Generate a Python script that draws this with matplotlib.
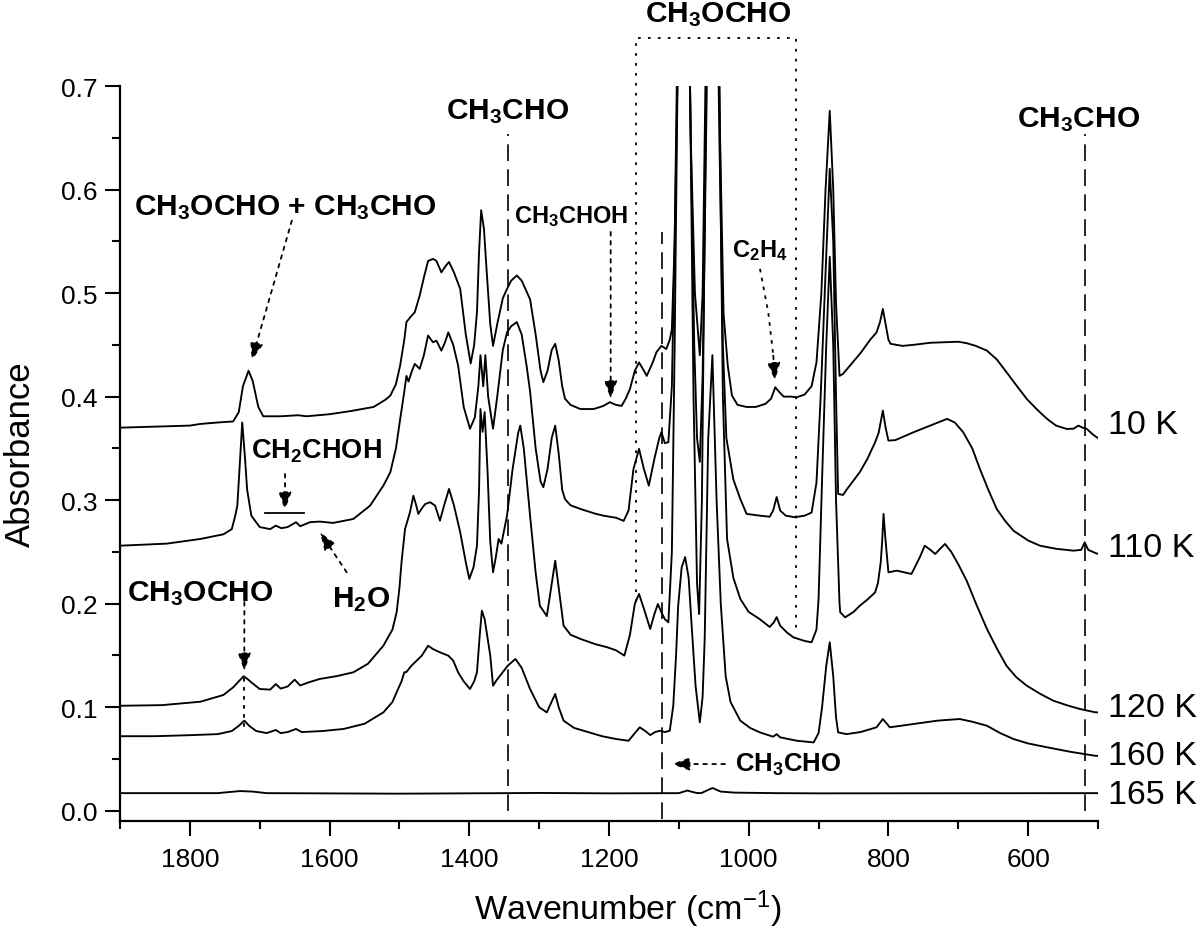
import matplotlib
matplotlib.use("Agg")
import matplotlib.pyplot as plt
import matplotlib.transforms as mtransforms

plt.rcParams['font.family'] = ['Liberation Sans', 'DejaVu Sans']
plt.rcParams['mathtext.default'] = 'regular'

# ---------------- data (wavenumber cm-1, absorbance) ----------------
wn_10K = [1900, 1850, 1800, 1785, 1760, 1738, 1730, 1724, 1716, 1710, 1702, 1695, 1670, 1645, 1633, 1600, 1570,
          1537, 1520, 1513, 1505, 1499, 1493, 1490, 1484, 1478, 1471, 1465, 1459, 1452, 1447, 1440, 1434, 1429,
          1422, 1413, 1405, 1398, 1393, 1389, 1386, 1383, 1379, 1375, 1370, 1366, 1360, 1352, 1346, 1340, 1332,
          1325, 1313, 1305, 1298, 1294, 1288, 1282, 1277, 1272, 1267, 1263, 1255, 1241, 1222, 1208, 1199, 1190,
          1182, 1176, 1170, 1163, 1157, 1150, 1146, 1138, 1132, 1125, 1118, 1113, 1110, 1106, 1103, 1098, 1092,
          1087, 1083, 1077, 1070, 1066, 1062, 1058, 1051, 1045, 1041, 1036, 1030, 1024, 1016, 1003, 990, 976,
          968, 962, 957, 950, 940, 931, 920, 910, 903, 896, 890, 884, 879, 875, 870, 865, 855, 840, 826, 817,
          812, 808, 804, 800, 797, 780, 764, 740, 716, 700, 688, 675, 659, 645, 631, 617, 602, 588, 573, 560,
          545, 535, 528, 522, 516, 510, 504, 500]
ab_10K = [0.370, 0.371, 0.372, 0.3736, 0.375, 0.376, 0.385, 0.41, 0.425, 0.415, 0.39, 0.381, 0.381, 0.382, 0.381,
          0.383, 0.386, 0.39, 0.397, 0.401, 0.412, 0.43, 0.455, 0.472, 0.477, 0.4815, 0.4976, 0.515, 0.531, 0.533,
          0.531, 0.52, 0.526, 0.53, 0.52, 0.504, 0.46, 0.432, 0.45, 0.4815, 0.54, 0.58, 0.562, 0.52, 0.47, 0.449,
          0.47, 0.495, 0.504, 0.512, 0.517, 0.512, 0.494, 0.46, 0.425, 0.414, 0.425, 0.445, 0.451, 0.435, 0.41,
          0.398, 0.392, 0.388, 0.388, 0.391, 0.3946, 0.392, 0.391, 0.398, 0.4074, 0.425, 0.433, 0.425, 0.42,
          0.432, 0.443, 0.449, 0.446, 0.455, 0.465, 0.55, 0.70, 0.90, 1.05, 0.85, 0.65, 0.50, 0.44, 0.50, 0.70,
          0.90, 1.10, 0.85, 0.65, 0.48, 0.43, 0.401, 0.392, 0.39, 0.39, 0.393, 0.398, 0.409, 0.405, 0.40, 0.40,
          0.3994, 0.402, 0.41, 0.433, 0.50, 0.60, 0.676, 0.60, 0.49, 0.42, 0.422, 0.43, 0.442, 0.455, 0.462,
          0.472, 0.4847, 0.47, 0.455, 0.451, 0.449, 0.45, 0.452, 0.4526, 0.453, 0.4516, 0.449, 0.4444, 0.436,
          0.4236, 0.411, 0.3978, 0.388, 0.3785, 0.372, 0.3688, 0.369, 0.372, 0.370, 0.3688, 0.365, 0.3617, 0.360]

wn_110K = [1900, 1833, 1785, 1752, 1740, 1735, 1732, 1729, 1725, 1721, 1718, 1712, 1700, 1685, 1677, 1669, 1660,
           1648, 1642, 1628, 1614, 1595, 1566, 1542, 1523, 1513, 1505, 1499, 1493, 1490, 1487, 1482, 1478, 1471,
           1465, 1459, 1452, 1447, 1440, 1435, 1430, 1423, 1416, 1408, 1399, 1392, 1387, 1384, 1380, 1377, 1373,
           1366, 1360, 1352, 1346, 1340, 1332, 1325, 1318, 1313, 1305, 1298, 1294, 1288, 1282, 1277, 1272, 1267,
           1263, 1255, 1241, 1220, 1208, 1190, 1179, 1172, 1165, 1157, 1150, 1143, 1135, 1128, 1125, 1120, 1115,
           1110, 1106, 1102, 1097, 1092, 1087, 1083, 1078, 1074, 1070, 1066, 1063, 1060, 1055, 1050, 1046, 1042,
           1037, 1032, 1022, 1012, 1003, 984, 970, 965, 960, 955, 947, 934, 920, 910, 903, 897, 890, 884, 879,
           875, 872, 865, 860, 841, 830, 819, 814, 808, 804, 800, 790, 764, 740, 716, 705, 693, 680, 669, 657,
           645, 633, 621, 600, 583, 560, 535, 524, 519, 514, 504, 500]
ab_110K = [0.256, 0.258, 0.2625, 0.267, 0.272, 0.285, 0.295, 0.33, 0.375, 0.34, 0.31, 0.285, 0.274, 0.272, 0.2754,
           0.2729, 0.274, 0.2787, 0.2748, 0.2787, 0.2793, 0.278, 0.2818, 0.2947, 0.314, 0.327, 0.35, 0.378, 0.405,
           0.42, 0.4146, 0.425, 0.4316, 0.4268, 0.44, 0.459, 0.4525, 0.454, 0.4444, 0.452, 0.462, 0.45, 0.43,
           0.39, 0.369, 0.38, 0.41, 0.44, 0.41, 0.44, 0.40, 0.369, 0.40, 0.445, 0.462, 0.468, 0.472, 0.46, 0.43,
           0.405, 0.35, 0.318, 0.3125, 0.33, 0.36, 0.372, 0.345, 0.31, 0.301, 0.295, 0.2915, 0.287, 0.285, 0.283,
           0.28, 0.29, 0.33, 0.3495, 0.33, 0.314, 0.34, 0.36, 0.3656, 0.355, 0.356, 0.41, 0.55, 0.70, 0.90, 1.0,
           0.85, 0.65, 0.45, 0.36, 0.337, 0.42, 0.55, 0.70, 0.90, 1.0, 0.85, 0.65, 0.45, 0.36, 0.32, 0.301, 0.2867,
           0.285, 0.284, 0.29, 0.303, 0.29, 0.285, 0.2835, 0.285, 0.288, 0.317, 0.40, 0.52, 0.62, 0.55, 0.40,
           0.306, 0.305, 0.31, 0.327, 0.34, 0.356, 0.365, 0.3865, 0.37, 0.3575, 0.358, 0.3656, 0.372, 0.3785,
           0.375, 0.3656, 0.35, 0.33, 0.31, 0.2915, 0.28, 0.2705, 0.261, 0.256, 0.253, 0.2512, 0.252, 0.2593,
           0.252, 0.249, 0.248]

wn_120K = [1900, 1840, 1785, 1752, 1738, 1730, 1723, 1717, 1712, 1700, 1685, 1677, 1670, 1660, 1650, 1642, 1630,
           1614, 1590, 1566, 1545, 1523, 1510, 1504, 1500, 1497, 1492, 1485, 1480, 1476, 1473, 1468, 1463, 1456,
           1449, 1442, 1436, 1429, 1422, 1413, 1405, 1400, 1394, 1389, 1386, 1384, 1381, 1378, 1374, 1370, 1366,
           1362, 1358, 1354, 1346, 1338, 1330, 1327, 1322, 1313, 1305, 1299, 1289, 1283, 1277, 1272, 1265, 1255,
           1241, 1220, 1203, 1190, 1178, 1170, 1163, 1157, 1150, 1141, 1135, 1130, 1125, 1120, 1115, 1110, 1106,
           1102, 1097, 1092, 1087, 1084, 1079, 1074, 1071, 1067, 1064, 1061, 1056, 1050, 1045, 1042, 1037, 1031,
           1022, 1012, 1000, 984, 970, 964, 960, 955, 945, 936, 920, 910, 903, 900, 895, 889, 884, 879, 875, 870,
           869, 862, 850, 841, 830, 819, 815, 811, 809, 807, 804, 800, 788, 767, 755, 748, 740, 733, 726, 719, 710,
           700, 688, 674, 659, 645, 631, 617, 602, 583, 564, 545, 526, 504, 500]
ab_120K = [0.1014, 0.102, 0.1053, 0.1118, 0.1192, 0.125, 0.1299, 0.127, 0.124, 0.1176, 0.117, 0.1224, 0.118, 0.12,
           0.1266, 0.121, 0.124, 0.1273, 0.13, 0.1337, 0.142, 0.1594, 0.175, 0.1917, 0.215, 0.24, 0.272, 0.288,
           0.3043, 0.295, 0.2867, 0.292, 0.2963, 0.298, 0.2947, 0.2802, 0.295, 0.3108, 0.295, 0.269, 0.24, 0.2239,
           0.235, 0.256, 0.31, 0.388, 0.366, 0.385, 0.33, 0.26, 0.2303, 0.245, 0.2625, 0.258, 0.285, 0.33, 0.365,
           0.372, 0.35, 0.285, 0.23, 0.198, 0.188, 0.215, 0.2415, 0.215, 0.1787, 0.17, 0.166, 0.161, 0.158, 0.155,
           0.1498, 0.17, 0.20, 0.2094, 0.195, 0.1756, 0.19, 0.1997, 0.1917, 0.185, 0.182, 0.25, 0.45, 0.70, 0.90,
           0.95, 0.85, 0.70, 0.40, 0.22, 0.19, 0.30, 0.50, 0.70, 0.90, 0.95, 0.85, 0.70, 0.40, 0.2625, 0.225,
           0.2045, 0.192, 0.185, 0.1775, 0.182, 0.187, 0.1787, 0.172, 0.1675, 0.164, 0.1627, 0.175, 0.2045, 0.32,
           0.45, 0.535, 0.45, 0.30, 0.20, 0.1917, 0.1868, 0.192, 0.198, 0.204, 0.211, 0.22, 0.24, 0.26, 0.2867,
           0.26, 0.2303, 0.2319, 0.2287, 0.245, 0.256, 0.252, 0.248, 0.253, 0.2577, 0.25, 0.238, 0.2222, 0.199,
           0.1756, 0.157, 0.14, 0.129, 0.1208, 0.113, 0.1063, 0.102, 0.0983, 0.0951, 0.095]

wn_160K = [1900, 1850, 1800, 1760, 1740, 1730, 1722, 1715, 1705, 1690, 1677, 1670, 1660, 1648, 1640, 1610, 1580,
           1550, 1523, 1510, 1504, 1497, 1493, 1490, 1483, 1468, 1459, 1452, 1442, 1430, 1423, 1416, 1408, 1399,
           1393, 1389, 1385, 1382, 1378, 1375, 1370, 1366, 1360, 1356, 1345, 1334, 1325, 1313, 1300, 1289, 1283,
           1277, 1272, 1265, 1250, 1230, 1210, 1190, 1172, 1163, 1156, 1148, 1141, 1134, 1127, 1120, 1113, 1108,
           1104, 1101, 1096, 1091, 1086, 1082, 1076, 1070, 1066, 1063, 1058, 1052, 1046, 1040, 1033, 1026, 1012,
           998, 984, 965, 960, 955, 931, 907, 900, 895, 889, 884, 879, 875, 872, 860, 840, 817, 808, 798, 764,
           730, 698, 680, 659, 640, 621, 600, 573, 540, 504, 500]
ab_160K = [0.072, 0.072, 0.073, 0.074, 0.077, 0.082, 0.087, 0.082, 0.077, 0.075, 0.078, 0.075, 0.076, 0.079, 0.076,
           0.077, 0.079, 0.084, 0.095, 0.105, 0.1144, 0.125, 0.1337, 0.134, 0.14, 0.1498, 0.1594, 0.1562, 0.153,
           0.1498, 0.145, 0.1337, 0.125, 0.1176, 0.125, 0.1337, 0.17, 0.1932, 0.185, 0.172, 0.15, 0.1208, 0.127,
           0.1304, 0.14, 0.1466, 0.138, 0.1176, 0.10, 0.095, 0.104, 0.1128, 0.10, 0.087, 0.08, 0.076, 0.072,
           0.0693, 0.0676, 0.075, 0.0806, 0.077, 0.0731, 0.076, 0.0773, 0.076, 0.0773, 0.1015, 0.15, 0.198, 0.235,
           0.245, 0.225, 0.182, 0.12, 0.0854, 0.11, 0.166, 0.359, 0.44, 0.30, 0.20, 0.13, 0.105, 0.087, 0.08,
           0.0757, 0.0715, 0.074, 0.0709, 0.0676, 0.066, 0.075, 0.10, 0.14, 0.1627, 0.13, 0.09, 0.0757, 0.074,
           0.076, 0.0806, 0.0886, 0.0806, 0.0838, 0.087, 0.0886, 0.086, 0.0821, 0.075, 0.0693, 0.065, 0.0613,
           0.057, 0.0531, 0.053]

wn_165K = [1900, 1760, 1745, 1728, 1710, 1690, 1500, 1350, 1300, 1200, 1100, 1088, 1075, 1068, 1052, 1040, 1020,
           960, 900, 500]
ab_165K = [0.017, 0.017, 0.018, 0.019, 0.0185, 0.017, 0.0165, 0.017, 0.0172, 0.0168, 0.017, 0.0195, 0.0172, 0.017,
           0.022, 0.0185, 0.0175, 0.017, 0.0168, 0.017]

spectra = [(wn_10K, ab_10K), (wn_110K, ab_110K), (wn_120K, ab_120K), (wn_160K, ab_160K), (wn_165K, ab_165K)]
temp_labels = ['10 K', '110 K', '120 K', '160 K', '165 K']
temp_label_y = [0.3727, 0.2538, 0.1002, 0.0529, 0.0161]

x_ticks = [1800, 1600, 1400, 1200, 1000, 800, 600]
y_ticks = [0.0, 0.1, 0.2, 0.3, 0.4, 0.5, 0.6, 0.7]

# ---------------- figure ----------------
fig = plt.figure(figsize=(12, 9.28), dpi=100)
ax = fig.add_axes([120 / 1200, 1 - 822 / 928, 978 / 1200, 735 / 928])

for wn, ab in spectra:
    ax.plot(wn, ab, color='black', lw=1.35, solid_joinstyle='round')

ax.set_xlim(1900, 500)
ax.set_ylim(-0.0099, 0.7)
ax.set_xticks(x_ticks)
ax.set_xticks(list(range(1900, 499, -100)), minor=True)
ax.set_yticks(y_ticks)
ax.set_yticks([i * 0.05 for i in range(15)], minor=True)
ax.set_yticklabels(['%.1f' % v for v in y_ticks])
ax.spines['top'].set_visible(False)
ax.spines['right'].set_visible(False)
ax.spines['left'].set_linewidth(1.6)
ax.spines['bottom'].set_linewidth(1.6)
ax.tick_params(which='major', direction='out', length=11, width=1.5, labelsize=19)
ax.tick_params(which='minor', direction='out', length=6, width=1.5)
ax.tick_params(axis='y', pad=5)
ax.tick_params(axis='x', pad=8)

fig.text(628 / 1200, 1 - 920 / 928, 'Wavenumber (cm$^{-1}$)', ha='center', va='baseline', fontsize=24.5)
fig.text(20 / 1200, 1 - 454 / 928, 'Absorbance', rotation=90, ha='center', va='center', fontsize=25)

# temperature labels
trans = mtransforms.blended_transform_factory(ax.transAxes, ax.transData)
for lab, yv in zip(temp_labels, temp_label_y):
    ax.text(1.0102, yv, lab, transform=trans, ha='left', va='center', fontsize=24.5, clip_on=False)

# dashed CH3CHO lines
dash = (0, (10, 5))
ax.plot([1345, 1345], [0.0, 0.654], color='black', lw=1.2, linestyle=dash)
ax.plot([1124, 1124], [-0.008, 0.559], color='black', lw=1.2, linestyle=dash)
ax.plot([518, 518], [0.0, 0.654], color='black', lw=1.2, linestyle=dash)

# dotted CH3OCHO box
dot = (0, (1.5, 4))
ax.plot([1162, 1162, 932, 932], [0.2013, 0.746, 0.746, 0.1756], color='black', lw=1.3,
        linestyle=dot, clip_on=False)

def darrow(x0, y0, x1, y1):
    ax.annotate('', xy=(x1, y1), xytext=(x0, y0),
                arrowprops=dict(arrowstyle='-|>,head_length=0.6,head_width=0.22', color='black', lw=1.3,
                                linestyle=(0, (2, 3)), shrinkA=0, shrinkB=0, mutation_scale=18))

darrow(1654, 0.57, 1711.5, 0.435)        # CH3OCHO + CH3CHO
darrow(1197.6, 0.559, 1197.6, 0.398)     # CH3CHOH
darrow(1663.8, 0.3253, 1663.8, 0.2905)   # CH2CHOH
darrow(1575.5, 0.2303, 1613.7, 0.269)    # H2O
darrow(1722, 0.2016, 1722, 0.135)        # CH3OCHO (left)
ax.plot([1722, 1722], [0.128, 0.079], color='black', lw=1.3, linestyle=(0, (2, 3)))
darrow(1034, 0.0451, 1110, 0.0451)       # CH3CHO bottom
# C2H4 slightly curved arrow
ax.plot([983.9, 972, 964.8], [0.5234, 0.4814, 0.4395], color='black', lw=1.3, linestyle=(0, (2, 3)))
darrow(964.8, 0.4395, 962.4, 0.4155)

# CH2CHOH bar
ax.plot([1693, 1636], [0.2873, 0.2873], color='black', lw=1.3)

# chemical labels
big = 21.5
small = 17
def lab(x, y, s, size, ha='center'):
    ax.text(x, y, s, ha=ha, va='baseline', fontsize=size, fontweight='bold', clip_on=False)

lab(1663.8, 0.5765, 'CH$_3$OCHO + CH$_3$CHO', big)
lab(1345, 0.669, 'CH$_3$CHO', big)
lab(528, 0.6616, 'CH$_3$CHO', big)
lab(1044, 0.763, 'CH$_3$OCHO', big)
lab(1254.4, 0.5685, 'CH$_3$CHOH', small)
lab(983.9, 0.536, 'C$_2$H$_4$', small)
lab(1619.5, 0.3414, 'CH$_2$CHOH', 19.5)
lab(1554.5, 0.198, 'H$_2$O', big)
lab(1785.5, 0.203, 'CH$_3$OCHO', big)
lab(1019.7, 0.0384, 'CH$_3$CHO', 18.5, ha='left')

fig.savefig('out.png', dpi=100)
